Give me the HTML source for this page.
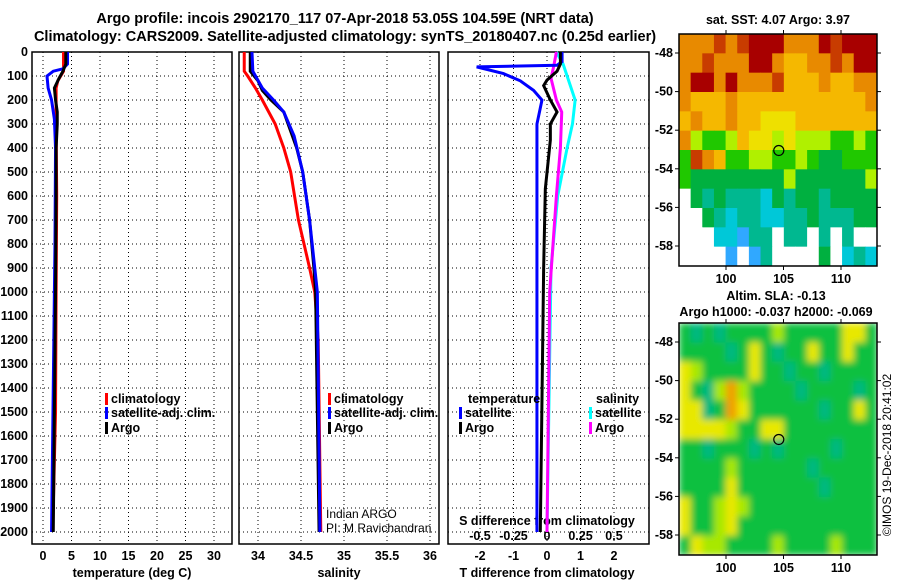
<!DOCTYPE html>
<html><head><meta charset="utf-8"><style>
body{margin:0;background:#fff;}
svg{display:block;font-family:"Liberation Sans",sans-serif;font-weight:bold;}
</style></head><body>
<svg id="c" width="900" height="580" viewBox="0 0 900 580">
<defs>
<filter id="bl" x="0" y="0" width="1" height="1"><feGaussianBlur stdDeviation="3.5" edgeMode="duplicate"/></filter>
<clipPath id="clipSla"><rect x="679" y="323" width="198" height="232"/></clipPath>
</defs>
<text x="345" y="23" font-size="14.5" text-anchor="middle">Argo profile: incois 2902170_117 07-Apr-2018 53.05S 104.59E (NRT data)</text>
<text x="345" y="41" font-size="14.5" text-anchor="middle">Climatology: CARS2009. Satellite-adjusted climatology: synTS_20180407.nc (0.25d earlier)</text>
<g id="g"></g>
</svg>
<script>
// ---- data ----
const depthTicks=[0,100,200,300,400,500,600,700,800,900,1000,1100,1200,1300,1400,1500,1600,1700,1800,1900,2000];
const tTicks=[0,5,10,15,20,25,30];
const sTicks=[34,34.5,35,35.5,36];
const sTickLabels=["34","34.5","35","35.5","36"];
const dTicks=[-2,-1,0,1,2];
const dsTicks=[-0.5,-0.25,0,0.25,0.5];
const dsTickLabels=["-0.5","-0.25","0","0.25","0.5"];
// temperature profiles [depth, value]
const tempClim=[[0,3.6],[80,3.6],[120,2.6],[150,2.3],[300,2.3],[600,2.4],[1000,2.3],[1500,2.2],[2000,1.7]];
const tempSat=[[0,4.3],[50,4.3],[70,3.5],[80,1.8],[100,0.7],[150,0.9],[200,1.5],[280,2.0],[400,2.2],[800,2.1],[1200,1.9],[2000,1.5]];
const tempArgo=[[0,4.0],[50,4.0],[80,3.5],[110,2.8],[150,2.0],[200,2.2],[250,2.5],[300,2.5],[400,2.3],[600,2.3],[1000,2.2],[1500,2.0],[2000,1.8]];
// salinity profiles
const salClim=[[0,33.84],[80,33.84],[100,33.88],[150,33.97],[200,34.05],[300,34.2],[400,34.3],[500,34.38],[700,34.47],[900,34.6],[1000,34.66],[1200,34.7],[2000,34.73]];
const salArgo=[[0,33.91],[80,33.91],[120,34.0],[160,34.05],[200,34.15],[250,34.3],[300,34.35],[400,34.45],[500,34.52],[700,34.6],[900,34.65],[1000,34.67],[2000,34.71]];
const salSat=[[0,33.93],[80,33.94],[150,34.05],[200,34.18],[250,34.3],[350,34.42],[500,34.52],[700,34.6],[900,34.66],[1000,34.69],[2000,34.72]];
// difference profiles
const dTsat=[[0,0.45],[40,0.45],[55,0.3],[62,-2.1],[90,-1.3],[120,-0.8],[160,-0.4],[200,-0.15],[300,-0.3],[400,-0.3],[1000,-0.3],[2000,-0.3]];
const dTargo=[[0,0.4],[50,0.4],[80,0.3],[117,0.0],[140,-0.1],[200,0.1],[250,0.3],[300,0.1],[367,0.1],[570,-0.05],[900,-0.1],[2000,-0.2]];
const dSsat=[[0,0.07],[50,0.12],[100,0.15],[200,0.21],[300,0.19],[400,0.15],[600,0.08],[900,0.03],[2000,0.0]];
const dSargo=[[0,0.07],[60,0.05],[110,0.03],[200,0.07],[250,0.11],[400,0.1],[600,0.07],[1000,0.02],[2000,0.0]];
// maps: 17 lon cols x 12 lat rows
const sstRows=["oooOoORRRoooRORRR","ooOoooRRoyyooOoRR","oRRoRoooOyyyoyyoo","oyyyoyyyyyyyyyyyo","yoyyoyyYYYyyyyyyy","olgglyYYlYlllgglg","gOoyggllgglgGGggg","gGGGGGGGGlGGGGGGl","wGtGtttcGtGGtGGGG","wwGtcttccttGtttGG","wwwccbttwttwtwtww","wwwwbwbtwwwwGwctc"];
const slaRows=["gtgtgggglgggggYYg","ggggtgYgtggYggYgg","YlggggYggtggtgggg","YgtlOlggggtggggtg","YYtgOYggggggtggYg","YYYYlggYYgggggggg","ggtgggtgtggggtggg","gggglggggggtggggg","ggggYgggggggtgggg","YgglYlggggggggggg","YgglYgggggggggggg","gYllgggglgggglggg"];
const latTicks=[-48,-50,-52,-54,-56,-58];
const lonTicks=[100,105,110];
const argoLon=104.59, argoLat=-53.05;
// ---- drawing ----
const NS="http://www.w3.org/2000/svg";
const G=document.getElementById('g');
function mk(t,a,p){const e=document.createElementNS(NS,t);for(const k in a)e.setAttribute(k,a[k]);(p||G).appendChild(e);return e;}
const y=d=>52+d*0.24;
const xT=v=>43+v*5.7, xS=v=>258+(v-34)*86, xD=v=>547+v*33.5, xDS=v=>547+v*134;
function frame(x0,x1,name){
  const r=mk('rect',{x:x0,y:52,width:x1-x0,height:492,fill:'none',stroke:'#000','stroke-width':1.5});
  
  
  depthTicks.forEach(d=>{if(d>0)mk('line',{x1:x0,x2:x1,y1:y(d),y2:y(d),stroke:'#000','stroke-dasharray':'1 3'});});
}
function vgrid(xs,f){xs.forEach(v=>mk('line',{x1:f(v),x2:f(v),y1:52,y2:544,stroke:'#000','stroke-dasharray':'1 3'}));}
function line(data,f,col,name,w){
  const p=mk('polyline',{points:data.map(a=>f(a[1])+','+y(a[0])).join(' '),fill:'none',stroke:col,'stroke-width':w||3});
  
  
}
function txt(x,yy,s,o){const e=mk('text',Object.assign({x:x,y:yy,'font-size':12.5},o||{}));e.textContent=s;return e;}
frame(32,232,'temperature-panel');frame(239,439,'salinity-panel');frame(448,649,'difference-panel');
vgrid(tTicks,xT);vgrid(sTicks,xS);vgrid(dTicks,xD);
depthTicks.forEach(d=>{const t=txt(28,y(d)+4,String(d),{'text-anchor':'end'});
  
  });
tTicks.forEach(v=>{const t=txt(xT(v),560,String(v),{'text-anchor':'middle'});});
sTicks.forEach((v,i)=>{const t=txt(xS(v),560,sTickLabels[i],{'text-anchor':'middle'});});
dTicks.forEach(v=>{const t=txt(xD(v),560,String(v),{'text-anchor':'middle'});});
dsTicks.forEach((v,i)=>{const t=txt(xDS(v),540,dsTickLabels[i],{'text-anchor':'middle'});});
txt(132,577,'temperature (deg C)',{'text-anchor':'middle'});
txt(339,577,'salinity',{'text-anchor':'middle'});
txt(547,577,'T difference from climatology',{'text-anchor':'middle'});
txt(547,525,'S difference from climatology',{'text-anchor':'middle'});
// series
line(tempClim,xT,'#f00','temp-climatology');line(tempSat,xT,'#00f','temp-satellite');line(tempArgo,xT,'#000','temp-argo');
line(salClim,xS,'#f00','sal-climatology');line(salArgo,xS,'#000','sal-argo');line(salSat,xS,'#00f','sal-satellite');
line(dSsat,xDS,'#0ff','sdiff-satellite');line(dSargo,xDS,'#f0f','sdiff-argo');
line(dTsat,xD,'#00f','tdiff-satellite');line(dTargo,xD,'#000','tdiff-argo');
// legends
function leg(x,yy,col,s,name){mk('rect',{x:x,y:yy-10,width:3,height:12,fill:col});const t=txt(x+6,yy,s);}
leg(105,403,'#f00','climatology','legend-climatology');leg(105,417,'#00f','satellite-adj. clim.','legend-satellite');leg(105,432,'#000','Argo','legend-argo');
leg(328,403,'#f00','climatology','legend-climatology-2');leg(328,417,'#00f','satellite-adj. clim.','legend-satellite-2');leg(328,432,'#000','Argo','legend-argo-2');
txt(468,403,'temperature');leg(459,417,'#00f','satellite','legend-tdiff-satellite');leg(459,432,'#000','Argo','legend-tdiff-argo');
txt(596,403,'salinity');leg(589,417,'#0ff','satellite','legend-sdiff-satellite');leg(589,432,'#f0f','Argo','legend-sdiff-argo');
txt(326,518,'Indian ARGO',{'font-weight':'normal','font-size':12});
txt(326,532,'PI: M Ravichandran',{'font-weight':'normal','font-size':12});
// maps
const pal={R:'#a80000',O:'#c83c00',o:'#e88a00',y:'#f5b800',Y:'#eee000',l:'#b0f000',g:'#20c800',G:'#00b040',t:'#00b890',c:'#00c8d8',b:'#30a8ff',w:'#ffffff'};
const palS={g:'#10c040',t:'#00b880',l:'#a8e800',Y:'#e8e800',O:'#f0a000'};
function map(rows,colors,top,name,smooth){
  const x0=679,x1=877,y1=top+232;
  const lx=v=>726+(v-100)*11.5;
  const cw=(x1-x0)/17,ch=(y1-top)/12;
  const outer=mk('g',{});
  if(smooth)outer.setAttribute('clip-path','url(#clipSla)');
  const gm=mk('g',{},outer);
  if(smooth)gm.setAttribute('filter','url(#bl)');
  rows.forEach((r,i)=>{for(let j=0;j<r.length;j++)mk('rect',{x:x0+j*cw,y:top+i*ch,width:cw+0.5,height:ch+0.5,fill:colors[r[j]]},gm);});
  mk('rect',{x:x0,y:top,width:x1-x0,height:y1-top,fill:'none',stroke:'#000','stroke-width':1.5});
  const latY=v=>top+19+(-48-v)*19.3;
  latTicks.forEach(v=>{mk('line',{x1:x0-4,x2:x0,y1:latY(v),y2:latY(v),stroke:'#000'});mk('line',{x1:x1,x2:x1+4,y1:latY(v),y2:latY(v),stroke:'#000'});
    const t=txt(673,latY(v)+4,String(v),{'text-anchor':'end'});});
  lonTicks.forEach(v=>{mk('line',{x1:lx(v),x2:lx(v),y1:y1,y2:y1+4,stroke:'#000'});mk('line',{x1:lx(v),x2:lx(v),y1:top-4,y2:top,stroke:'#000'});
    const t=txt(lx(v),y1+17,String(v),{'text-anchor':'middle'});});
  const c=mk('circle',{cx:lx(argoLon),cy:latY(argoLat),r:5,fill:'none',stroke:'#000','stroke-width':1.2});
  
}
map(sstRows,pal,34,'sst-map',false);
map(slaRows,palS,323,'sla-map',true);
txt(778,24,'sat. SST: 4.07 Argo: 3.97',{'text-anchor':'middle'});
txt(776,300,'Altim. SLA: -0.13',{'text-anchor':'middle'});
txt(776,316,'Argo h1000: -0.037 h2000: -0.069',{'text-anchor':'middle'});
const cr=txt(0,0,'©IMOS 19-Dec-2018 20:41:02',{'font-weight':'normal','font-size':12,'text-anchor':'middle',transform:'translate(891,455) rotate(-90)'});

</script>
</body></html>
